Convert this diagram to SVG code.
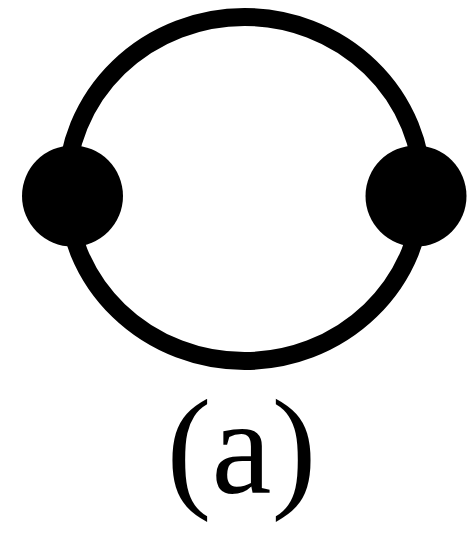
<svg xmlns="http://www.w3.org/2000/svg" width="473" height="533" viewBox="0 0 473 533">
<style>
.edge{fill:none;stroke:#000;stroke-width:18}
.dot{fill:#000}
</style>
<rect width="473" height="533" fill="#fff"/>
<g id="connectors">
<ellipse class="edge" cx="244.5" cy="189" rx="178" ry="172"/>
</g>
<g id="node-left"><circle class="dot" cx="72.5" cy="196" r="50.5"/></g>
<g id="node-right"><circle class="dot" cx="416" cy="196" r="50.5"/></g>
<g id="label" transform="translate(241.5 493) scale(3)"><text x="0" y="0" text-anchor="middle" font-family="Liberation Serif" font-size="45" fill="#000">(a)</text></g>
</svg>
